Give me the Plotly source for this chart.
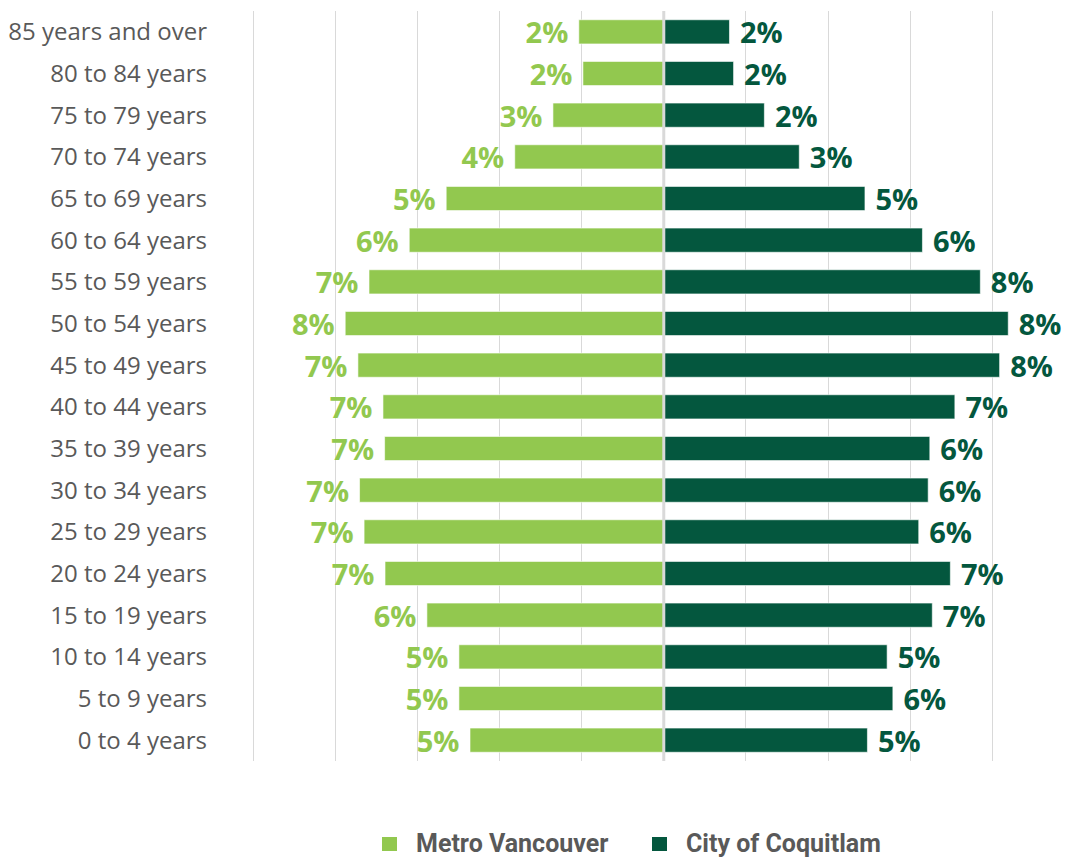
import plotly.graph_objects as go

# Age groups, bottom to top
age_groups = [
    "0 to 4 years", "5 to 9 years", "10 to 14 years", "15 to 19 years",
    "20 to 24 years", "25 to 29 years", "30 to 34 years", "35 to 39 years",
    "40 to 44 years", "45 to 49 years", "50 to 54 years", "55 to 59 years",
    "60 to 64 years", "65 to 69 years", "70 to 74 years", "75 to 79 years",
    "80 to 84 years", "85 years and over",
]

# Share of population (%) by age group
metro_vancouver = [
    4.72, 4.99, 4.99, 5.77, 6.79, 7.30, 7.41, 6.80, 6.84,
    7.45, 7.76, 7.18, 6.20, 5.30, 3.63, 2.70, 1.97, 2.07,
]
city_of_coquitlam = [
    4.96, 5.58, 5.44, 6.54, 6.98, 6.21, 6.44, 6.48, 7.09,
    8.18, 8.39, 7.71, 6.30, 4.90, 3.30, 2.45, 1.70, 1.60,
]

series_names = ["Metro Vancouver", "City of Coquitlam"]
grid_ticks = [-10, -8, -6, -4, -2, 0, 2, 4, 6, 8]

LIGHT = "#92c84f"
DARK = "#04573e"
GREY_TEXT = "#595959"
GRID = "#d9d9d9"

W, H = 1069, 859
M_L, M_R, M_T, M_B = 252, 0, 11, 98
PLOT_W = W - M_L - M_R
PLOT_H = H - M_T - M_B

fig = go.Figure()

fig.add_trace(go.Bar(
    name=series_names[0],
    y=age_groups,
    x=[-v for v in metro_vancouver],
    orientation="h",
    marker=dict(color=LIGHT, line=dict(color="rgba(255,255,255,0.6)", width=1)),
    text=[f"{v:.0f}% " for v in metro_vancouver],
    textposition="outside",
    constraintext="none",
    textfont=dict(family="Open Sans", size=29, color=LIGHT, weight="bold"),
    cliponaxis=False,
    hoverinfo="skip",
    showlegend=False,
))

fig.add_trace(go.Bar(
    name=series_names[1],
    y=age_groups,
    x=city_of_coquitlam,
    orientation="h",
    marker=dict(color=DARK, line=dict(color="rgba(255,255,255,0.6)", width=1)),
    text=[f" {v:.0f}%" for v in city_of_coquitlam],
    textposition="outside",
    constraintext="none",
    textfont=dict(family="Open Sans", size=29, color=DARK, weight="bold"),
    cliponaxis=False,
    hoverinfo="skip",
    showlegend=False,
))

# Centre divider between the two sides
fig.add_shape(
    type="line", xref="x", yref="paper",
    x0=0, x1=0, y0=0, y1=1,
    line=dict(color=GRID, width=3), layer="above",
)

# Legend below the plot: coloured square + bold series name
def px_x(px):
    return (px - M_L) / PLOT_W

def px_y(py):
    return (H - M_B - py) / PLOT_H

legend_items = [(series_names[0], LIGHT, 382), (series_names[1], DARK, 652)]
for name, color, left in legend_items:
    fig.add_shape(
        type="rect", xref="paper", yref="paper",
        x0=px_x(left), x1=px_x(left + 15),
        y0=px_y(851), y1=px_y(837),
        fillcolor=color, line=dict(width=0),
    )
    fig.add_annotation(
        xref="paper", yref="paper",
        x=px_x(left + 32), y=px_y(843),
        xanchor="left", yanchor="middle",
        text=name, showarrow=False,
        font=dict(family="Roboto", size=25, color=GREY_TEXT, weight="bold"),
    )

fig.update_layout(
    width=W, height=H,
    margin=dict(l=M_L, r=M_R, t=M_T, b=M_B, autoexpand=False),
    paper_bgcolor="white", plot_bgcolor="white",
    barmode="overlay",
    bargap=0.42,
    showlegend=False,
    xaxis=dict(
        range=[-10.03, 9.87],
        tickvals=grid_ticks,
        showticklabels=False,
        showgrid=True, gridcolor=GRID, gridwidth=1,
        zeroline=False, showline=False, fixedrange=True,
    ),
    yaxis=dict(
        categoryorder="array", categoryarray=age_groups,
        tickfont=dict(family="Open Sans", size=24, color=GREY_TEXT),
        ticks="", ticklabelstandoff=44,
        showgrid=False, zeroline=False, showline=False, fixedrange=True,
    ),
)

fig.write_html("out.html", config={"displayModeBar": False})
